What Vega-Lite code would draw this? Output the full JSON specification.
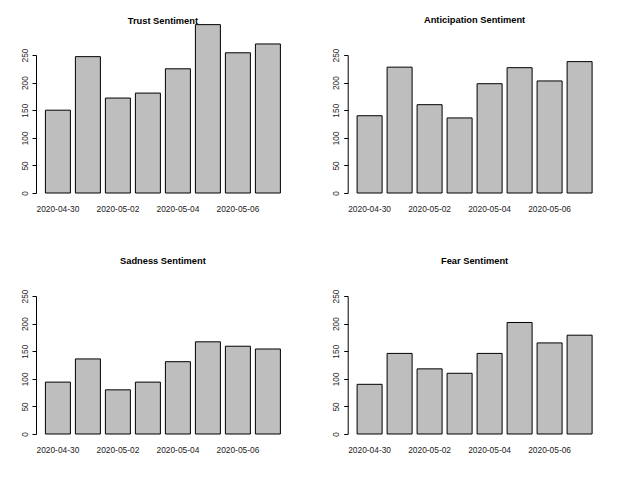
{
  "$schema": "https://vega.github.io/schema/vega-lite/v6.json",
  "background": "white",
  "padding": {"left": 20, "top": 15, "right": 0, "bottom": 0},
  "datasets": {
    "sentiment": [
      {"sentiment": "Trust", "date": "2020-04-30", "count": 150},
      {"sentiment": "Trust", "date": "2020-05-01", "count": 247},
      {"sentiment": "Trust", "date": "2020-05-02", "count": 172},
      {"sentiment": "Trust", "date": "2020-05-03", "count": 181},
      {"sentiment": "Trust", "date": "2020-05-04", "count": 225},
      {"sentiment": "Trust", "date": "2020-05-05", "count": 305},
      {"sentiment": "Trust", "date": "2020-05-06", "count": 254},
      {"sentiment": "Trust", "date": "2020-05-07", "count": 270},
      {"sentiment": "Anticipation", "date": "2020-04-30", "count": 140},
      {"sentiment": "Anticipation", "date": "2020-05-01", "count": 228},
      {"sentiment": "Anticipation", "date": "2020-05-02", "count": 160},
      {"sentiment": "Anticipation", "date": "2020-05-03", "count": 136},
      {"sentiment": "Anticipation", "date": "2020-05-04", "count": 198},
      {"sentiment": "Anticipation", "date": "2020-05-05", "count": 227},
      {"sentiment": "Anticipation", "date": "2020-05-06", "count": 203},
      {"sentiment": "Anticipation", "date": "2020-05-07", "count": 238},
      {"sentiment": "Sadness", "date": "2020-04-30", "count": 94},
      {"sentiment": "Sadness", "date": "2020-05-01", "count": 136},
      {"sentiment": "Sadness", "date": "2020-05-02", "count": 80},
      {"sentiment": "Sadness", "date": "2020-05-03", "count": 94},
      {"sentiment": "Sadness", "date": "2020-05-04", "count": 131},
      {"sentiment": "Sadness", "date": "2020-05-05", "count": 167},
      {"sentiment": "Sadness", "date": "2020-05-06", "count": 159},
      {"sentiment": "Sadness", "date": "2020-05-07", "count": 154},
      {"sentiment": "Fear", "date": "2020-04-30", "count": 90},
      {"sentiment": "Fear", "date": "2020-05-01", "count": 146},
      {"sentiment": "Fear", "date": "2020-05-02", "count": 118},
      {"sentiment": "Fear", "date": "2020-05-03", "count": 110},
      {"sentiment": "Fear", "date": "2020-05-04", "count": 146},
      {"sentiment": "Fear", "date": "2020-05-05", "count": 202},
      {"sentiment": "Fear", "date": "2020-05-06", "count": 165},
      {"sentiment": "Fear", "date": "2020-05-07", "count": 179}
    ]
  },
  "data": {"name": "sentiment"},
  "columns": 2,
  "bounds": "flush",
  "spacing": {"row": 103, "column": 57.7},
  "concat": [
    {
      "title": {"text": "Trust Sentiment", "dy": 25},
      "width": 253.8, "height": 138,
      "transform": [{"filter": "datum.sentiment == 'Trust'"}],
      "mark": {"type": "bar", "fill": "#bebebe", "stroke": "black", "strokeWidth": 1},
      "encoding": {
        "x": {"field": "date", "type": "nominal", "title": null,
              "scale": {"paddingInner": 0.1667, "paddingOuter": 0.3133},
              "axis": {"values": ["2020-04-30", "2020-05-02", "2020-05-04", "2020-05-06"]}},
        "y": {"field": "count", "type": "quantitative", "title": null,
              "scale": {"domain": [0, 250], "nice": false},
              "axis": {"values": [0, 50, 100, 150, 200, 250]}}
      }
    },
    {
      "title": "Anticipation Sentiment",
      "width": 253.8, "height": 138,
      "transform": [{"filter": "datum.sentiment == 'Anticipation'"}],
      "mark": {"type": "bar", "fill": "#bebebe", "stroke": "black", "strokeWidth": 1},
      "encoding": {
        "x": {"field": "date", "type": "nominal", "title": null,
              "scale": {"paddingInner": 0.1667, "paddingOuter": 0.3133},
              "axis": {"values": ["2020-04-30", "2020-05-02", "2020-05-04", "2020-05-06"]}},
        "y": {"field": "count", "type": "quantitative", "title": null,
              "scale": {"domain": [0, 250], "nice": false},
              "axis": {"values": [0, 50, 100, 150, 200, 250]}}
      }
    },
    {
      "title": "Sadness Sentiment",
      "width": 253.8, "height": 138,
      "transform": [{"filter": "datum.sentiment == 'Sadness'"}],
      "mark": {"type": "bar", "fill": "#bebebe", "stroke": "black", "strokeWidth": 1},
      "encoding": {
        "x": {"field": "date", "type": "nominal", "title": null,
              "scale": {"paddingInner": 0.1667, "paddingOuter": 0.3133},
              "axis": {"values": ["2020-04-30", "2020-05-02", "2020-05-04", "2020-05-06"]}},
        "y": {"field": "count", "type": "quantitative", "title": null,
              "scale": {"domain": [0, 250], "nice": false},
              "axis": {"values": [0, 50, 100, 150, 200, 250]}}
      }
    },
    {
      "title": "Fear Sentiment",
      "width": 253.8, "height": 138,
      "transform": [{"filter": "datum.sentiment == 'Fear'"}],
      "mark": {"type": "bar", "fill": "#bebebe", "stroke": "black", "strokeWidth": 1},
      "encoding": {
        "x": {"field": "date", "type": "nominal", "title": null,
              "scale": {"paddingInner": 0.1667, "paddingOuter": 0.3133},
              "axis": {"values": ["2020-04-30", "2020-05-02", "2020-05-04", "2020-05-06"]}},
        "y": {"field": "count", "type": "quantitative", "title": null,
              "scale": {"domain": [0, 250], "nice": false},
              "axis": {"values": [0, 50, 100, 150, 200, 250]}}
      }
    }
  ],
  "config": {
    "font": "Liberation Sans",
    "view": {"stroke": null},
    "title": {"fontSize": 9.3, "fontWeight": "bold", "color": "black", "frame": "group",
              "anchor": "middle", "baseline": "alphabetic", "offset": 23},
    "axisX": {"domain": false, "ticks": false, "labelAngle": 0, "labelFontSize": 8.4,
              "labelColor": "#222", "labelPadding": 11, "labelOverlap": false},
    "axisY": {"grid": false, "domainColor": "black", "tickColor": "black", "tickSize": 4,
              "labelAngle": -90, "labelAlign": "center", "labelBaseline": "bottom",
              "labelFontSize": 8.4, "labelColor": "#222", "labelPadding": 3}
  }
}
